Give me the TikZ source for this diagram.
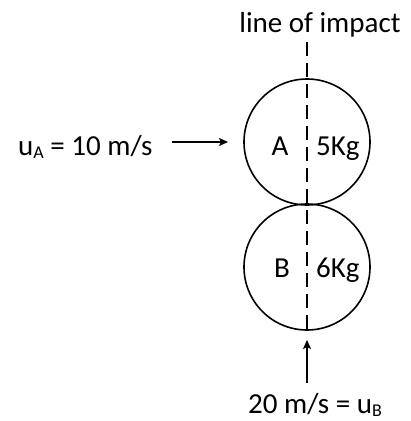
\documentclass[tikz,border=0pt]{standalone}
\usepackage{fontspec}
\setmainfont{Carlito}
\usetikzlibrary{arrows.meta}
\newcommand{\subl}[1]{\raisebox{-3.5pt}{\fontsize{18}{18}\selectfont #1}}
\begin{document}
\begin{tikzpicture}[x=1pt,y=1pt,
  lbl/.style={inner sep=0pt, font=\fontsize{29}{34}\selectfont},
  ball/.style={circle, draw, line width=1.6pt, minimum size=126pt, inner sep=0pt},
  arr/.style={line width=1.6pt, -{Stealth[length=9pt,width=8pt,inset=2pt]}},
  impact/.style={line width=1.4pt, dash pattern=on 14pt off 7pt}]
\useasboundingbox (0,0) rectangle (411,-421);
\node[ball] (A) at (307,-142) {};
\node[ball] (B) at (307,-267) {};
\node[lbl, anchor=base] (loi) at (320,-32) {line of impact};
\coordinate (ltop) at (307,-42);
\coordinate (lbot) at (307,-330);
\draw[impact] (ltop) -- (lbot);
\node[lbl, anchor=base] (nA) at (280,-155) {A};
\node[lbl, anchor=base west] (mA) at (316,-155) {5Kg};
\node[lbl, anchor=base] (nB) at (282,-277) {B};
\node[lbl, anchor=base west] (mB) at (316,-277) {6Kg};
\node[lbl, anchor=base west] (uA) at (18,-155) {u\subl{A} = 10 m/s};
\node[lbl, anchor=base] (uB) at (315,-413) {20 m/s = u\subl{B}};
\coordinate (aAs) at (172,-142);
\coordinate (aAe) at (228,-142);
\coordinate (aBs) at (307,-383);
\coordinate (aBe) at (307,-340);
\draw[arr] (aAs) -- (aAe);
\draw[arr] (aBs) -- (aBe);
\end{tikzpicture}
\end{document}
